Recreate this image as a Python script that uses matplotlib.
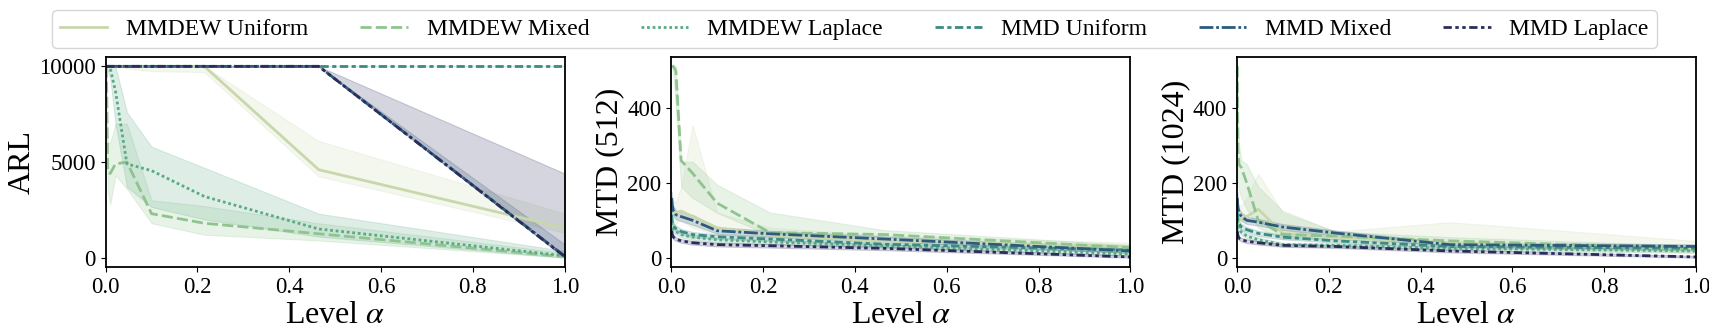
import numpy as np
import matplotlib
matplotlib.use('Agg')
import matplotlib.pyplot as plt

plt.rcParams['font.family'] = ['Liberation Serif', 'DejaVu Serif']
plt.rcParams['mathtext.fontset'] = 'stix'

alphas = [0.001, 0.00215, 0.00464, 0.01, 0.0215, 0.0464, 0.1, 0.215, 0.464, 1.0]
methods = ['MMDEW Uniform', 'MMDEW Mixed', 'MMDEW Laplace', 'MMD Uniform', 'MMD Mixed', 'MMD Laplace']
colors = ['#c9d7ad', '#8fc48f', '#5aaa85', '#3b8a84', '#2e5b7d', '#2b2e5c']
dashes = ['', (4, 1.5), (1, 1), (3, 1.25, 1.5, 1.25), (5, 1, 1, 1), (3, 1.25, 1.25, 1.25, 1.25, 1.25)]

# ARL: mean, lower, upper per method
arl_mean = {
    'MMDEW Uniform': [10000, 10000, 10000, 10000, 10000, 10000, 10000, 10000, 4600, 1550],
    'MMDEW Mixed':   [10000, 9000, 4500, 4400, 4900, 5000, 2300, 1800, 1250, 50],
    'MMDEW Laplace': [10000, 10000, 10000, 9900, 8700, 4900, 4550, 3200, 1500, 100],
    'MMD Uniform':   [10000, 10000, 10000, 10000, 10000, 10000, 10000, 10000, 10000, 10000],
    'MMD Mixed':     [10000, 10000, 10000, 10000, 10000, 10000, 10000, 10000, 10000, 80],
    'MMD Laplace':   [10000, 10000, 10000, 10000, 10000, 10000, 10000, 10000, 10000, 60],
}
arl_lo = {
    'MMDEW Uniform': [10000, 10000, 10000, 10000, 10000, 9900, 9750, 9700, 4250, 1300],
    'MMDEW Mixed':   [10000, 7000, 3500, 2800, 4300, 3600, 1800, 1200, 900, 0],
    'MMDEW Laplace': [10000, 10000, 9800, 9400, 7000, 3700, 2650, 2000, 1100, 0],
    'MMD Uniform':   [10000, 10000, 10000, 10000, 10000, 10000, 10000, 10000, 10000, 10000],
    'MMD Mixed':     [10000, 10000, 10000, 10000, 10000, 10000, 10000, 10000, 10000, 0],
    'MMD Laplace':   [10000, 10000, 10000, 10000, 10000, 10000, 10000, 10000, 10000, 0],
}
arl_hi = {
    'MMDEW Uniform': [10000, 10000, 10000, 10000, 10000, 10000, 10000, 10000, 6100, 2300],
    'MMDEW Mixed':   [10000, 10000, 6000, 6000, 7000, 7000, 3000, 2700, 1800, 250],
    'MMDEW Laplace': [10000, 10000, 10000, 10000, 10000, 7600, 5800, 4700, 2300, 350],
    'MMD Uniform':   [10000, 10000, 10000, 10000, 10000, 10000, 10000, 10000, 10000, 10000],
    'MMD Mixed':     [10000, 10000, 10000, 10000, 10000, 10000, 10000, 10000, 10000, 700],
    'MMD Laplace':   [10000, 10000, 10000, 10000, 10000, 10000, 10000, 10000, 10000, 4400],
}

# MTD with 512 samples
mtd512_mean = {
    'MMDEW Uniform': [130, 125, 122, 120, 125, 110, 80, 60, 45, 30],
    'MMDEW Mixed':   [512, 512, 512, 500, 260, 226, 146, 67, 62, 27],
    'MMDEW Laplace': [95, 85, 75, 70, 62, 55, 48, 42, 32, 10],
    'MMD Uniform':   [115, 95, 85, 78, 70, 62, 56, 50, 36, 20],
    'MMD Mixed':     [160, 140, 125, 115, 110, 100, 72, 64, 50, 18],
    'MMD Laplace':   [72, 62, 55, 50, 45, 40, 35, 32, 25, 2],
}
mtd512_lo = {
    'MMDEW Uniform': [100, 95, 90, 90, 100, 80, 60, 48, 35, 22],
    'MMDEW Mixed':   [512, 512, 490, 400, 190, 160, 120, 60, 55, 22],
    'MMDEW Laplace': [85, 76, 67, 62, 55, 48, 42, 36, 27, 5],
    'MMD Uniform':   [105, 86, 77, 70, 63, 55, 50, 44, 31, 15],
    'MMD Mixed':     [145, 125, 112, 103, 98, 88, 64, 57, 44, 12],
    'MMD Laplace':   [65, 56, 49, 45, 40, 35, 30, 27, 20, 0],
}
mtd512_hi = {
    'MMDEW Uniform': [150, 150, 150, 150, 190, 355, 120, 80, 60, 40],
    'MMDEW Mixed':   [512, 512, 512, 512, 257, 257, 195, 121, 74, 34],
    'MMDEW Laplace': [105, 94, 83, 78, 70, 62, 54, 48, 37, 15],
    'MMD Uniform':   [125, 104, 93, 86, 77, 69, 62, 56, 41, 25],
    'MMD Mixed':     [175, 155, 138, 127, 122, 115, 82, 72, 57, 25],
    'MMD Laplace':   [80, 68, 61, 55, 50, 45, 40, 37, 30, 6],
}

# MTD with 1024 samples
mtd1024_mean = {
    'MMDEW Uniform': [100, 105, 108, 100, 110, 130, 65, 55, 40, 25],
    'MMDEW Mixed':   [512, 290, 250, 240, 200, 100, 62, 58, 45, 25],
    'MMDEW Laplace': [100, 85, 75, 68, 58, 48, 35, 33, 25, 18],
    'MMD Uniform':   [120, 100, 90, 82, 75, 65, 55, 45, 30, 25],
    'MMD Mixed':     [160, 135, 120, 110, 100, 95, 82, 66, 35, 30],
    'MMD Laplace':   [70, 60, 52, 48, 44, 40, 33, 30, 18, 2],
}
mtd1024_lo = {
    'MMDEW Uniform': [80, 85, 90, 85, 95, 100, 55, 45, 30, 15],
    'MMDEW Mixed':   [480, 200, 180, 160, 130, 80, 50, 50, 38, 18],
    'MMDEW Laplace': [90, 77, 68, 61, 52, 42, 30, 28, 20, 13],
    'MMD Uniform':   [110, 92, 82, 75, 68, 58, 49, 40, 25, 20],
    'MMD Mixed':     [145, 122, 108, 99, 90, 86, 74, 59, 30, 24],
    'MMD Laplace':   [63, 54, 47, 43, 39, 35, 29, 26, 14, 0],
}
mtd1024_hi = {
    'MMDEW Uniform': [130, 140, 140, 140, 160, 225, 120, 70, 95, 45],
    'MMDEW Mixed':   [512, 400, 300, 260, 250, 190, 125, 70, 55, 32],
    'MMDEW Laplace': [110, 93, 82, 75, 64, 54, 40, 38, 30, 23],
    'MMD Uniform':   [130, 108, 98, 89, 82, 72, 61, 50, 35, 30],
    'MMD Mixed':     [175, 148, 132, 121, 110, 104, 90, 73, 40, 36],
    'MMD Laplace':   [77, 66, 57, 53, 49, 45, 37, 34, 22, 5],
}

panels = [
    ('ARL', arl_mean, arl_lo, arl_hi),
    ('MTD (512)', mtd512_mean, mtd512_lo, mtd512_hi),
    ('MTD (1024)', mtd1024_mean, mtd1024_lo, mtd1024_hi),
]

fig, axes = plt.subplots(1, 3, figsize=(17.09, 3.32), dpi=100)
fig.subplots_adjust(left=0.0618, right=0.9924, top=0.829, bottom=0.195, wspace=0.232)

handles = []
for ax, (ylabel, mean, lo, hi) in zip(axes, panels):
    for m, c, d in zip(methods, colors, dashes):
        ax.fill_between(alphas, lo[m], hi[m], color=c, alpha=0.2, linewidth=0.8)
        line, = ax.plot(alphas, mean[m], color=c, lw=2.0, label=m)
        if d:
            line.set_dashes(d)
        if ax is axes[0]:
            handles.append(line)
    ax.set_xlim(0, 1)
    ax.set_xlabel(r'Level $\alpha$', fontsize=23, labelpad=2)
    ax.set_ylabel(ylabel, fontsize=23, labelpad=2)
    ax.tick_params(labelsize=16.5)
    ax.set_xticks([0.0, 0.2, 0.4, 0.6, 0.8, 1.0])
    for s in ax.spines.values():
        s.set_linewidth(1.3)

axes[0].set_yticks([0, 5000, 10000])
axes[1].set_yticks([0, 200, 400])
axes[2].set_yticks([0, 200, 400])

fig.legend(handles, methods, loc='upper center', bbox_to_anchor=(0.5, 1.005), ncol=6,
           fontsize=17, frameon=True, columnspacing=2.2, handlelength=2.0,
           borderpad=0.35, fancybox=True)

plt.savefig('out.png', dpi=100)
